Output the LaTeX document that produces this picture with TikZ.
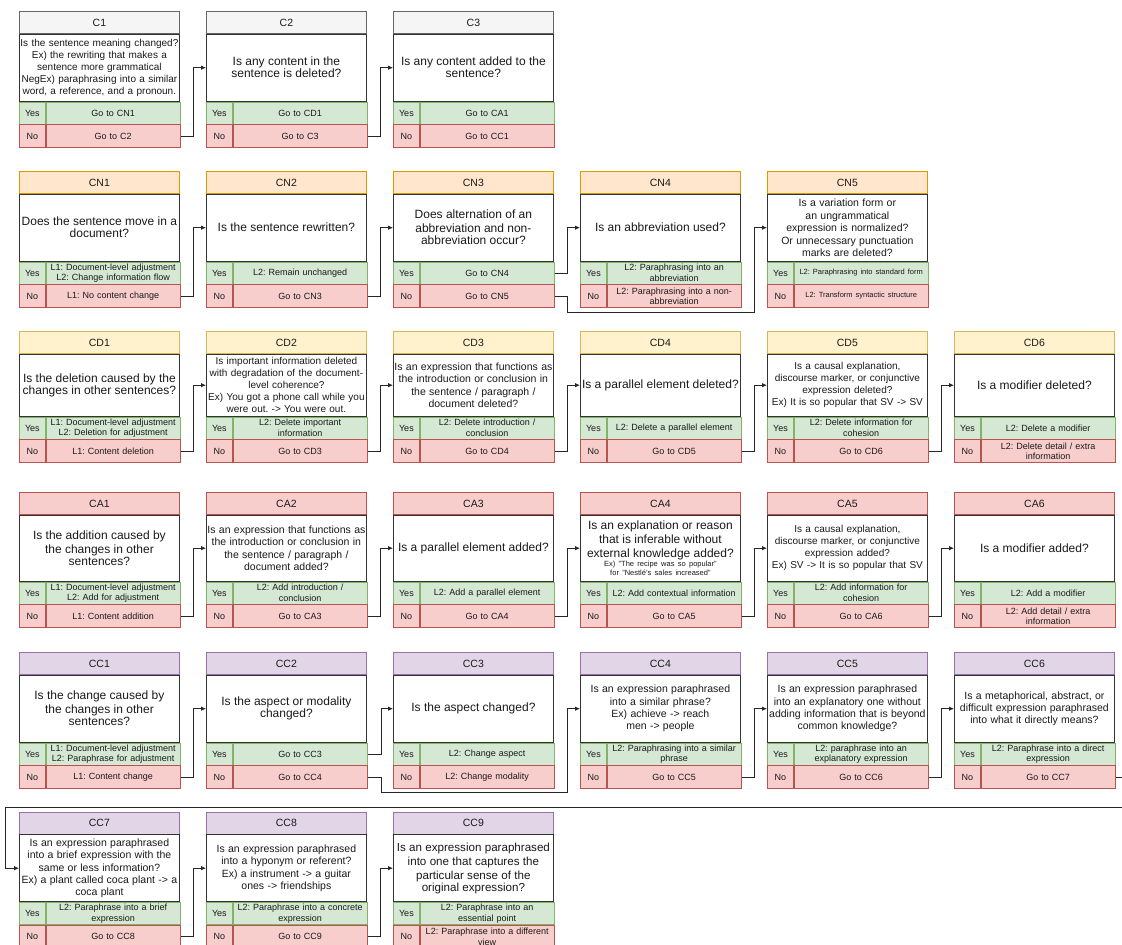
\documentclass[tikz,border=0pt]{standalone}
\usepackage{fontspec}
\setmainfont{Liberation Sans}
\usetikzlibrary{arrows.meta}
\definecolor{hgF}{HTML}{F5F5F5}\definecolor{hgD}{HTML}{666666}
\definecolor{hoF}{HTML}{FFE6CC}\definecolor{hoD}{HTML}{D79B00}
\definecolor{hyF}{HTML}{FFF2CC}\definecolor{hyD}{HTML}{D6B656}
\definecolor{hrF}{HTML}{F8CECC}\definecolor{hrD}{HTML}{B85450}
\definecolor{hpF}{HTML}{E1D5E7}\definecolor{hpD}{HTML}{9673A6}
\definecolor{gnF}{HTML}{D5E8D4}\definecolor{gnD}{HTML}{82B366}
\definecolor{txt}{HTML}{1A1A1A}
\newcommand\fsL{\fontsize{12}{14}\selectfont}
\newcommand\fsLs{\fontsize{11.6}{14}\selectfont}
\newcommand\fsM{\fontsize{10.5}{12.5}\selectfont}
\newcommand\fsS{\fontsize{10}{12}\selectfont}
\newcommand\fsT{\fontsize{7.5}{9}\selectfont}
\newcommand\fsY{\fontsize{9}{10.5}\selectfont}
\newcommand\flowbox[9]{%
  \node[hdr,#4,anchor=north west] (#1h) at (#2,#3) {#5};
  \node[bodyb,anchor=north west,minimum height=#9pt] (#1) at (#1h.south west) {#6};
  \node[yesl,anchor=north west] (#1yl) at (#1.south west) {Yes};
  \node[yest,anchor=north west] (#1y) at (#1yl.north east) {#7};
  \node[nol,anchor=north west] (#1nl) at (#1yl.south west) {No};
  \node[nocell,anchor=north west] (#1n) at (#1nl.north east) {#8};
}
\tikzset{
  x=1pt, y=-1pt,
  every node/.style={text=txt, line width=0.8pt},
  hdr/.style={minimum width=160pt, minimum height=22pt, inner sep=0pt, font=\fontsize{10.5}{12}\selectfont},
  hC/.style={fill=hgF, draw=hgD},
  hCN/.style={fill=hoF, draw=hoD},
  hCD/.style={fill=hyF, draw=hyD},
  hCA/.style={fill=hrF, draw=hrD},
  hCC/.style={fill=hpF, draw=hpD},
  bodyb/.style={draw=black!80, fill=white, text width=158pt, inner xsep=1pt, inner ysep=0pt, align=center},
  yesl/.style={fill=gnF, draw=gnD, minimum width=26pt, minimum height=22pt, inner sep=0pt, font=\fontsize{9}{10.5}\selectfont},
  yest/.style={fill=gnF, draw=gnD, text width=130pt, inner xsep=2pt, inner ysep=0pt, minimum height=22pt, align=center, font=\fontsize{9}{10.5}\selectfont},
  nol/.style={fill=hrF, draw=hrD, minimum width=26pt, minimum height=22.5pt, inner sep=0pt, font=\fontsize{9}{10.5}\selectfont},
  nocell/.style={fill=hrF, draw=hrD, text width=130pt, inner xsep=2pt, inner ysep=0pt, minimum height=22.5pt, align=center, font=\fontsize{9}{10.5}\selectfont},
  conn/.style={draw=black!85, line width=0.8pt, -{Latex[length=5pt,width=4.5pt]}},
}
\begin{document}
\frenchspacing\hyphenpenalty=10000\exhyphenpenalty=10000
\begin{tikzpicture}
\useasboundingbox (0,0) rectangle (1122,945);
% ---------- Row 1 ----------
\flowbox{C1}{19}{11}{hC}{C1}{\fsS Is the sentence meaning changed?\\Ex) the rewriting that makes a\\sentence more grammatical\\NegEx) paraphrasing into a similar\\word, a reference, and a pronoun.}{Go to CN1}{Go to C2}{67}
\flowbox{C2}{206}{11}{hC}{C2}{\fsL Is any content in the\\sentence is deleted?}{Go to CD1}{Go to C3}{67}
\flowbox{C3}{393}{11}{hC}{C3}{\fsL Is any content added to the\\sentence?}{Go to CA1}{Go to CC1}{67}
% ---------- Row 2 ----------
\flowbox{CN1}{19}{171}{hCN}{CN1}{\fsL Does the sentence move in a\\document?}{\fsY L1: Document-level adjustment\\L2: Change information flow}{L1: No content change}{67}
\flowbox{CN2}{206}{171}{hCN}{CN2}{\fsL Is the sentence rewritten?}{L2: Remain unchanged}{Go to CN3}{67}
\flowbox{CN3}{393}{171}{hCN}{CN3}{\fsL Does alternation of an\\abbreviation and non-\\abbreviation occur?}{Go to CN4}{Go to CN5}{67}
\flowbox{CN4}{580}{171}{hCN}{CN4}{\fsL Is an abbreviation used?}{\fsY L2: Paraphrasing into an\\abbreviation}{\fsY L2: Paraphrasing into a non-\\abbreviation}{67}
\flowbox{CN5}{767}{171}{hCN}{CN5}{\fsM Is a variation form or\\an ungrammatical\\expression is normalized?\\Or unnecessary punctuation\\marks are deleted?}{\fsT L2: Paraphrasing into standard form}{\fsT L2: Transform syntactic structure}{67}
% ---------- Row 3 ----------
\flowbox{CD1}{19}{331}{hCD}{CD1}{\fsL Is the deletion caused by the\\changes in other sentences?}{\fsY L1: Document-level adjustment\\L2: Deletion for adjustment}{L1: Content deletion}{62}
\flowbox{CD2}{206}{331}{hCD}{CD2}{\fsS Is important information deleted\\with degradation of the document-\\level coherence?\\Ex) You got a phone call while you\\were out. -> You were out.}{\fsY L2: Delete important\\information}{Go to CD3}{62}
\flowbox{CD3}{393}{331}{hCD}{CD3}{\fsM Is an expression that functions as\\the introduction or conclusion in\\the sentence / paragraph /\\document deleted?}{\fsY L2: Delete introduction /\\conclusion}{Go to CD4}{62}
\flowbox{CD4}{580}{331}{hCD}{CD4}{\fsL Is a parallel element deleted?}{L2: Delete a parallel element}{Go to CD5}{62}
\flowbox{CD5}{767}{331}{hCD}{CD5}{\fsS Is a causal explanation,\\discourse marker, or conjunctive\\expression deleted?\\Ex) It is so popular that SV -> SV}{\fsY L2: Delete information for\\cohesion}{Go to CD6}{62}
\flowbox{CD6}{954}{331}{hCD}{CD6}{\fsL Is a modifier deleted?}{L2: Delete a modifier}{\fsY L2: Delete detail / extra\\information}{62}
% ---------- Row 4 ----------
\flowbox{CA1}{19}{492}{hCA}{CA1}{\fsL Is the addition caused by\\the changes in other\\sentences?}{\fsY L1: Document-level adjustment\\L2: Add for adjustment}{L1: Content addition}{66}
\flowbox{CA2}{206}{492}{hCA}{CA2}{\fsM Is an expression that functions as\\the introduction or conclusion in\\the sentence / paragraph /\\document added?}{\fsY L2: Add introduction /\\conclusion}{Go to CA3}{66}
\flowbox{CA3}{393}{492}{hCA}{CA3}{\fsL Is a parallel element added?}{L2: Add a parallel element}{Go to CA4}{66}
\flowbox{CA4}{580}{492}{hCA}{CA4}{\fsL Is an explanation or reason\\that is inferable without\\external knowledge added?\par\fsT Ex) "The recipe was so popular"\\for "Nestlé's sales increased"\par}{L2: Add contextual information}{Go to CA5}{66}
\flowbox{CA5}{767}{492}{hCA}{CA5}{\fsS Is a causal explanation,\\discourse marker, or conjunctive\\expression added?\\Ex) SV -> It is so popular that SV}{\fsY L2: Add information for\\cohesion}{Go to CA6}{66}
\flowbox{CA6}{954}{492}{hCA}{CA6}{\fsL Is a modifier added?}{L2: Add a modifier}{\fsY L2: Add detail / extra\\information}{66}
% ---------- Row 5 ----------
\flowbox{CC1}{19}{652}{hCC}{CC1}{\fsL Is the change caused by\\the changes in other\\sentences?}{\fsY L1: Document-level adjustment\\L2: Paraphrase for adjustment}{L1: Content change}{67}
\flowbox{CC2}{206}{652}{hCC}{CC2}{\fsL Is the aspect or modality\\changed?}{Go to CC3}{Go to CC4}{67}
\flowbox{CC3}{393}{652}{hCC}{CC3}{\fsL Is the aspect changed?}{L2: Change aspect}{L2: Change modality}{67}
\flowbox{CC4}{580}{652}{hCC}{CC4}{\fsM Is an expression paraphrased\\into a similar phrase?\\Ex) achieve -> reach\\men -> people}{\fsY L2: Paraphrasing into a similar\\phrase}{Go to CC5}{67}
\flowbox{CC5}{767}{652}{hCC}{CC5}{\fsM Is an expression paraphrased\\into an explanatory one without\\adding information that is beyond\\common knowledge?}{\fsY L2: paraphrase into an\\explanatory expression}{Go to CC6}{67}
\flowbox{CC6}{954}{652}{hCC}{CC6}{\fsM Is a metaphorical, abstract, or\\difficult expression paraphrased\\into what it directly means?}{\fsY L2: Paraphrase into a direct\\expression}{Go to CC7}{67}
% ---------- Row 6 ----------
\flowbox{CC7}{19}{811.5}{hCC}{CC7}{\fsM Is an expression paraphrased\\into a brief expression with the\\same or less information?\\Ex) a plant called coca plant -> a\\coca plant}{\fsY L2: Paraphrase into a brief\\expression}{Go to CC8}{67}
\flowbox{CC8}{206}{811.5}{hCC}{CC8}{\fsM Is an expression paraphrased\\into a hyponym or referent?\\Ex) a instrument -> a guitar\\ones -> friendships}{\fsY L2: Paraphrase into a concrete\\expression}{Go to CC9}{67}
\flowbox{CC9}{393}{811.5}{hCC}{CC9}{\fsLs Is an expression paraphrased\\into one that captures the\\particular sense of the\\original expression?}{\fsY L2: Paraphrase into an\\essential point}{\fsY L2: Paraphrase into a different\\view}{67}
% ---------- helper coordinates ----------
\coordinate (k1) at (754,312);
\coordinate (k2) at (567,792);
\coordinate (k3) at (1124,807);
\coordinate (k4) at (5.5,807);
% ---------- connectors ----------
\draw[conn] (C1n.east) -- ++(13,0) |- (C2.west);
\draw[conn] (C2n.east) -- ++(13,0) |- (C3.west);
\draw[conn] (CN1n.east) -- ++(13,0) |- (CN2.west);
\draw[conn] (CN2n.east) -- ++(13,0) |- (CN3.west);
\draw[conn] (CN3y.east) -- ++(13,0) |- (CN4.west);
\draw[conn] (CN3n.east) -- ++(13,0) |- (k1) |- (CN5.west);
\draw[conn] (CD1n.east) -- ++(13,0) |- (CD2.west);
\draw[conn] (CD2n.east) -- ++(13,0) |- (CD3.west);
\draw[conn] (CD3n.east) -- ++(13,0) |- (CD4.west);
\draw[conn] (CD4n.east) -- ++(13,0) |- (CD5.west);
\draw[conn] (CD5n.east) -- ++(13,0) |- (CD6.west);
\draw[conn] (CA1n.east) -- ++(13,0) |- (CA2.west);
\draw[conn] (CA2n.east) -- ++(13,0) |- (CA3.west);
\draw[conn] (CA3n.east) -- ++(13,0) |- (CA4.west);
\draw[conn] (CA4n.east) -- ++(13,0) |- (CA5.west);
\draw[conn] (CA5n.east) -- ++(13,0) |- (CA6.west);
\draw[conn] (CC1n.east) -- ++(13,0) |- (CC2.west);
\draw[conn] (CC2y.east) -- ++(14,0) |- (CC3.west);
\draw[conn] (CC2n.east) -- ++(14,0) |- (k2) |- (CC4.west);
\draw[conn] (CC4n.east) -- ++(13,0) |- (CC5.west);
\draw[conn] (CC5n.east) -- ++(13,0) |- (CC6.west);
\draw[conn] (CC6n.east) -| (k3) -- (k4) |- (CC7.west);
\draw[conn] (CC7n.east) -- ++(13,0) |- (CC8.west);
\draw[conn] (CC8n.east) -- ++(13,0) |- (CC9.west);
\end{tikzpicture}
\end{document}
